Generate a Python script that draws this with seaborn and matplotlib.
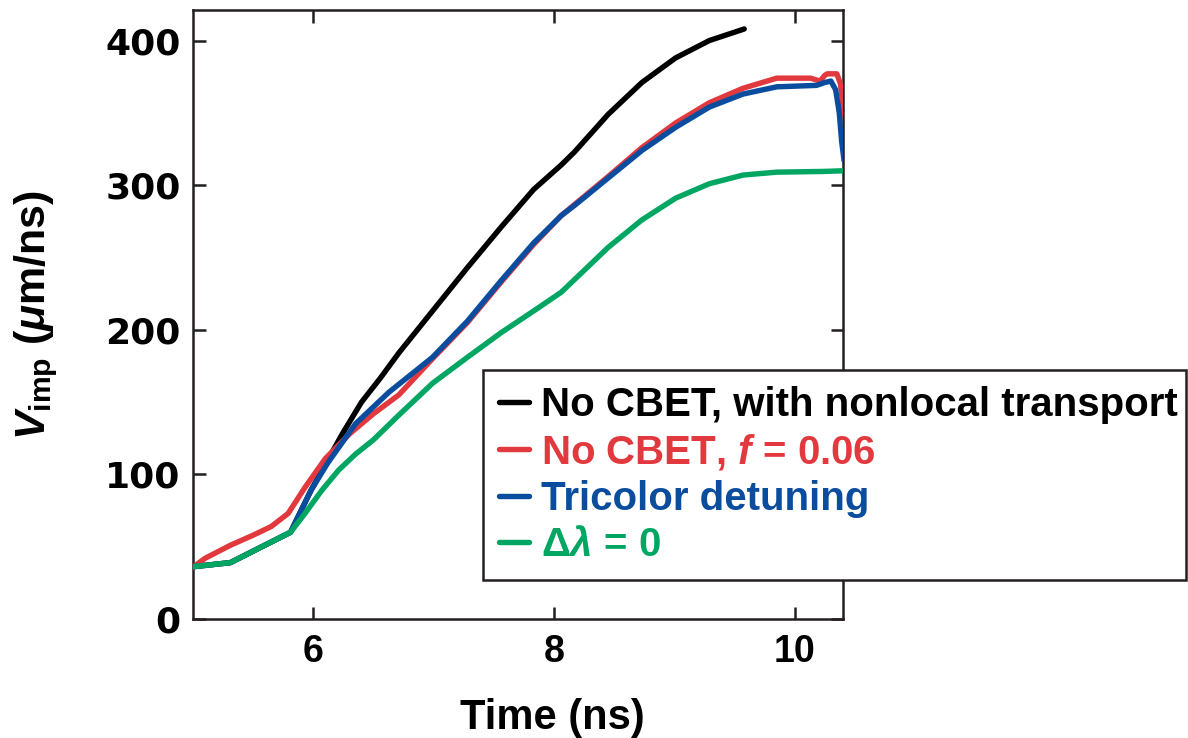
import numpy as np
import pandas as pd
import matplotlib
matplotlib.use("Agg")
import matplotlib.pyplot as plt
import seaborn as sns

t_nolocal = [4.98, 5.31, 5.81, 5.98, 6.12, 6.24, 6.40, 6.56, 6.71, 6.99, 7.28,
             7.56, 7.83, 8.06, 8.17, 8.45, 8.73, 9.01, 9.29, 9.58]
v_nolocal = [36, 39, 60, 89, 110, 128, 150, 167, 184, 213, 243,
             271, 297, 314, 323, 349, 371, 388, 400, 408]

t_flim = [4.97, 5.10, 5.31, 5.50, 5.65, 5.79, 5.93, 6.10, 6.30, 6.50, 6.71, 6.99,
          7.28, 7.56, 7.83, 8.06, 8.45, 8.73, 9.01, 9.29, 9.57, 9.85, 10.13,
          10.21, 10.25, 10.27, 10.35, 10.38, 10.40, 10.42]
v_flim = [34, 42, 51, 58, 64, 73, 91, 111, 128, 142, 155, 180,
          205, 233, 259, 279, 306, 326, 343, 357, 367, 374, 374,
          372, 376, 377, 377, 370, 355, 340]

t_tricolor = [4.98, 5.31, 5.81, 5.98, 6.12, 6.35, 6.63, 6.99, 7.28, 7.56, 7.83,
              8.06, 8.17, 8.45, 8.73, 9.01, 9.29, 9.57, 9.85, 10.18, 10.25,
              10.30, 10.34, 10.37, 10.39, 10.41]
v_tricolor = [36, 39, 60, 89, 108, 135, 157, 181, 206, 234, 260,
              279, 286, 305, 324, 340, 354, 363, 368, 369, 371,
              372, 366, 350, 330, 317]

t_nodetune = [4.98, 5.31, 5.81, 5.93, 6.07, 6.21, 6.35, 6.50, 6.71, 6.99, 7.28,
              7.56, 7.83, 8.06, 8.45, 8.73, 9.01, 9.29, 9.57, 9.85, 10.24, 10.42]
v_nodetune = [36, 39, 60, 73, 89, 103, 114, 124, 141, 163, 181,
              198, 213, 226, 257, 276, 291, 301, 307, 309, 309.5, 310]

labels = ["No CBET, with nonlocal transport", "No CBET, $f$ = 0.06",
          "Tricolor detuning", r"$\Delta\lambda$ = 0"]
colors = ["#000000", "#E2393F", "#0A4D9E", "#00A661"]
xticks = [6, 8, 10]
yticks = [0, 100, 200, 300, 400]

sns.set_theme(style="ticks")
plt.rcParams["font.family"] = ["Liberation Sans", "DejaVu Sans"]
plt.rcParams["font.weight"] = "bold"
plt.rcParams["mathtext.fontset"] = "custom"
plt.rcParams["mathtext.rm"] = "Liberation Sans:bold"
plt.rcParams["mathtext.bf"] = "Liberation Sans:bold"
plt.rcParams["mathtext.it"] = "Liberation Sans:bold:italic"

fig = plt.figure(figsize=(11.88, 7.38), dpi=100)
ax = fig.add_axes([0.1625, 0.1612, 0.547, 0.825])

series = [(t_nolocal, v_nolocal), (t_flim, v_flim),
          (t_tricolor, v_tricolor), (t_nodetune, v_nodetune)]
# green at the bottom, black on top
for i in [3, 1, 2, 0]:
    t, v = series[i]
    df = pd.DataFrame({"t": t, "v": v})
    sns.lineplot(data=df, x="t", y="v", ax=ax, color=colors[i], lw=3.9,
                 sort=False, estimator=None, legend=False,
                 zorder=3 + i * 0.1)

ax.set_xlim(5.0, 10.4)
ax.set_ylim(0, 421)
ax.set_xticks(xticks)
ax.set_yticks(yticks)
ax.set_xticklabels([str(x) for x in xticks], fontsize=27, fontweight="bold")
ax.set_yticklabels([str(y) for y in yticks], fontsize=26, fontweight="bold",
                   family="DejaVu Sans")
ax.tick_params(direction="in", length=9, width=1.8, top=True, right=True,
               colors="#231f20")
ax.tick_params(axis="x", pad=11)
ax.tick_params(axis="y", pad=9)
for tl in ax.get_xticklabels() + ax.get_yticklabels():
    tl.set_color("black")
for sp in ax.spines.values():
    sp.set_linewidth(1.8)
    sp.set_color("#231f20")

ax.set_xlabel("Time (ns)", fontsize=30, fontweight="bold", color="black")
ax.xaxis.set_label_coords(0.553, -0.13)
ax.set_ylabel(r"$V_{\mathrm{imp}}$ ($\mu$m/ns)", fontsize=31,
              fontweight="bold", color="black")
ax.yaxis.set_label_coords(-0.205, 0.5)

handles = [plt.Line2D([], [], color=c, lw=3.9) for c in colors]
leg = ax.legend(handles, labels, loc="lower left",
                bbox_to_anchor=(483 / 1188, (738 - 580) / 738, (1186 - 483) / 1188,
                                (580 - 373) / 738),
                bbox_transform=fig.transFigure, mode="expand",
                fontsize=29, frameon=True, fancybox=False, framealpha=1,
                handlelength=0.75, handletextpad=0.3, labelspacing=0.2,
                borderpad=0.4, borderaxespad=0, labelcolor="linecolor")
leg.get_frame().set_edgecolor("#231f20")
leg.get_frame().set_linewidth(1.8)
for txt in leg.get_texts():
    txt.set_fontweight("bold")

fig.savefig("out.png", dpi=100)
